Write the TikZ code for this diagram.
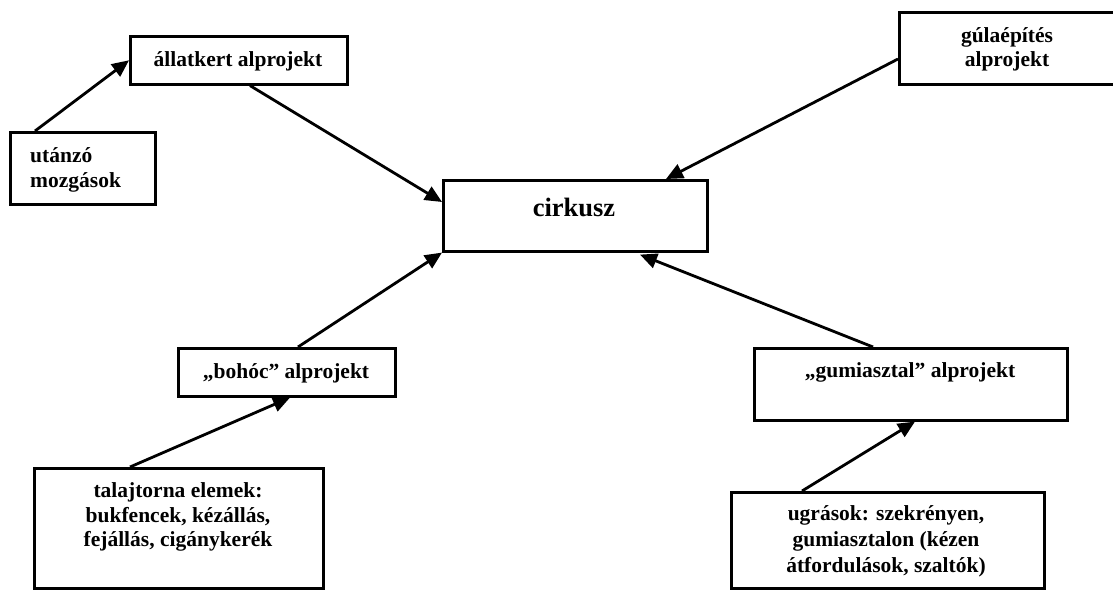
\documentclass[tikz,border=0pt]{standalone}
\usepackage{fontspec}
\setmainfont{Liberation Serif}
\usetikzlibrary{arrows.meta}
\begin{document}
\begin{tikzpicture}[x=1pt,y=-1pt,
  box/.style={draw=black,line width=2.6pt,rectangle,anchor=north west,inner sep=0pt},
  txt/.style={inner sep=0pt,font=\fontsize{21.5}{25}\selectfont\bfseries,align=center},
  conn/.style={line width=2.8pt,-{Triangle[length=17pt,width=15pt]}}
]
\useasboundingbox (0,0) rectangle (1113,593);
% boxes
\node[box,minimum width=217pt,minimum height=48pt] (allat) at (129,35) {};
\node[box,minimum width=145pt,minimum height=72pt] (utanzo) at (9,131) {};
\node[box,minimum width=264pt,minimum height=71pt] (cirkusz) at (442,179) {};
\node[box,minimum width=218pt,minimum height=72pt] (gula) at (898,11) {};
\node[box,minimum width=217pt,minimum height=48pt] (bohoc) at (177,347) {};
\node[box,minimum width=313pt,minimum height=72pt] (gumi) at (753,347) {};
\node[box,minimum width=289pt,minimum height=120pt] (talaj) at (33,467) {};
\node[box,minimum width=313pt,minimum height=96pt] (ugras) at (730,491) {};
% texts
\node[txt] (allat-t) at (238,61) {állatkert alprojekt};
\node[txt,align=left,anchor=west] (utanzo-t) at (30,170) {utánzó\\mozgások};
\node[txt,font=\fontsize{26.5}{30}\selectfont\bfseries] (cirkusz-t) at (574,207) {cirkusz};
\node[txt,font=\fontsize{21.5}{24}\selectfont\bfseries] (gula-t) at (1007,49) {gúlaépítés\\alprojekt};
\node[txt] (bohoc-t) at (286,373) {„bohóc” alprojekt};
\node[txt] (gumi-t) at (910,372) {„gumiasztal” alprojekt};
\node[txt,font=\fontsize{21.5}{24.5}\selectfont\bfseries] (talaj-t) at (178,517) {talajtorna elemek:\\bukfencek, kézállás,\\fejállás, cigánykerék};
\node[txt,font=\fontsize{21.5}{26}\selectfont\bfseries] (ugras-t) at (886,541) {ugrások: szekrényen,\\gumiasztalon (kézen\\átfordulások, szaltók)};
% connectors
\draw[conn] ([xshift=26pt]utanzo.north west) -- (allat.west);
\draw[conn] ([xshift=121pt]allat.south west) -- ([yshift=-23pt]cirkusz.north west);
\draw[conn] ([yshift=-48pt]gula.north west) -- ([xshift=224pt]cirkusz.north west);
\draw[conn] ([xshift=97pt]talaj.north west) -- ([xshift=113pt]bohoc.south west);
\draw[conn] ([xshift=121pt]bohoc.north west) -- (cirkusz.south west);
\draw[conn] ([xshift=120pt]gumi.north west) -- ([xshift=198pt,yshift=-2pt]cirkusz.south west);
\draw[conn] ([xshift=72pt]ugras.north west) -- ([xshift=162pt]gumi.south west);
\end{tikzpicture}
\end{document}
